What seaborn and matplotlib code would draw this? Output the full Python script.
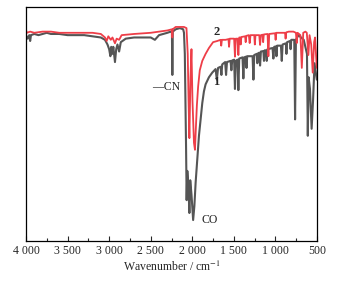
import numpy as np
import pandas as pd
import matplotlib
matplotlib.use("Agg")
import matplotlib.pyplot as plt
import seaborn as sns

# spectrum 1 (grey): wavenumber / cm-1 and transmittance (arbitrary %)
wn_1 = [4000, 3980, 3960, 3950, 3940, 3900, 3850, 3800, 3750, 3700, 3600, 3500,
        3400, 3300, 3200, 3100, 3050, 3020, 3000, 2985, 2975, 2960, 2950, 2930,
        2915, 2900, 2880, 2860, 2800, 2700, 2600, 2500, 2450, 2400, 2300, 2260,
        2245, 2240, 2235, 2200, 2150, 2110, 2100, 2090, 2075, 2068, 2060, 2045,
        2035, 2025, 2010, 1990, 1975, 1960, 1940, 1920, 1900, 1880, 1860, 1840,
        1800, 1760, 1720, 1705, 1690, 1660, 1650, 1640, 1605, 1594, 1583, 1540,
        1530, 1520, 1497, 1487, 1477, 1456, 1446, 1436, 1396, 1386, 1376, 1355,
        1348, 1340, 1275, 1265, 1255, 1225, 1218, 1210, 1195, 1185, 1175, 1145,
        1138, 1130, 1115, 1105, 1095, 1035, 1025, 1015, 995, 988, 980, 934,
        924, 914, 875, 868, 860, 825, 818, 810, 790, 774, 764, 754,
        724, 660, 621, 611, 601, 585, 565, 548, 530, 503]
t_1 = [88, 86.5, 88, 85.5, 88, 88.5, 88, 88.5, 89, 88.5, 88.5, 88,
       88, 88, 87.5, 87, 86, 84, 82, 79, 83, 80, 83, 76.5,
       82, 84, 81, 85, 86.5, 87, 87, 87, 86, 88, 89, 89.5,
       89, 71, 89.5, 90.5, 91, 90.5, 89, 80, 40, 17.5, 30, 22,
       12, 26, 20, 9, 15, 25, 35, 45, 52, 59, 64, 67,
       70, 72, 73.5, 69, 74, 74.5, 71, 75.5, 76.5, 71, 76.5, 77,
       73, 77.2, 77.5, 65, 77, 77.5, 64.5, 78, 78.5, 69.5, 78.5, 78.8,
       74, 79, 79, 69, 79.5, 80, 76, 80.2, 80.5, 75, 81, 81.2,
       77, 81.5, 81.5, 77, 82, 82.5, 78, 83, 83.2, 79, 83.5, 83.5,
       77, 84, 84.5, 80, 85, 85.5, 82, 86, 86, 86, 52, 86,
       88, 86, 80, 45, 70, 65, 48, 60, 76, 69]

# spectrum 2 (red)
wn_2 = [4000, 3990, 3950, 3900, 3800, 3700, 3600, 3400, 3200, 3100, 3050, 3030,
        3010, 2980, 2960, 2930, 2910, 2880, 2850, 2700, 2500, 2400, 2300, 2245,
        2240, 2235, 2200, 2100, 2070, 2055, 2045, 2035, 2022, 2010, 1998, 1980,
        1968, 1955, 1945, 1930, 1910, 1880, 1840, 1800, 1750, 1700, 1660, 1652,
        1644, 1600, 1565, 1558, 1550, 1497, 1487, 1477, 1456, 1446, 1436, 1425,
        1418, 1410, 1365, 1358, 1350, 1320, 1310, 1300, 1255, 1248, 1240, 1195,
        1185, 1175, 1155, 1148, 1140, 1095, 1085, 1075, 1005, 998, 990, 960,
        885, 878, 870, 840, 784, 754, 744, 734, 700, 683, 666, 640,
        623, 604, 590, 570, 552, 535, 524, 503]
t_2 = [90.2, 89, 89.5, 89, 89.5, 89.5, 89, 89, 89, 88.5, 87, 85.5,
       87.5, 86, 87, 84.5, 86.5, 86, 88, 88.5, 89, 89.5, 90, 90.5,
       87, 90.5, 91.5, 91.5, 91, 80, 60, 44, 70, 82, 60, 42,
       39, 50, 58, 66, 73, 77, 80, 82.5, 85, 85.5, 86, 83.5,
       86, 86, 86.3, 83, 86.5, 86.5, 78.8, 86.5, 86.5, 79.5, 87, 87,
       84, 87.2, 87.5, 85, 87.7, 88, 84.6, 88, 88, 84, 88, 88,
       83.8, 88, 88.2, 85, 88.3, 88.5, 79, 88.5, 88.8, 86, 89, 89,
       89, 86.5, 89.2, 89.5, 89.5, 89, 84.6, 89, 88, 74, 89, 89.5,
       89, 79.5, 88, 84, 72, 85, 87, 74]

ticks = [4000, 3500, 3000, 2500, 2000, 1500, 1000, 500]
tick_labels = ['4 000', '3 500', '3 000', '2 500', '2 000', '1 500', '1 000', '500']

sns.set_style("white")
plt.rcParams['font.family'] = ['Liberation Serif', 'DejaVu Serif']
plt.rcParams['mathtext.fontset'] = 'stix'

fig = plt.figure(figsize=(3.42, 2.82), dpi=100)
ax = fig.add_axes([0.076, 0.145, 0.851, 0.830])

sns.lineplot(x=wn_1, y=t_1, sort=False, estimator=None, color='#555555', lw=1.5, ax=ax)
sns.lineplot(x=wn_2, y=t_2, sort=False, estimator=None, color='#ee3e48', lw=1.3, ax=ax)

ax.set_xlim(4000, 500)
ax.set_ylim(0, 100)
ax.set_xticks(ticks)
ax.set_xticklabels(tick_labels, fontsize=8.5)
ax.set_xticks([3750, 3250, 2750, 2250, 1750, 1250, 750], minor=True)
ax.set_yticks([])
ax.tick_params(axis='x', which='major', direction='in', length=3.5, width=0.8, pad=3,
               bottom=True, top=False)
ax.tick_params(axis='x', which='minor', direction='in', length=2, width=0.8,
               bottom=True, top=False)
for s in ax.spines.values():
    s.set_color('black')
    s.set_linewidth(0.9)

ax.set_xlabel('Wavenumber / cm$^{-1}$', fontsize=8.5, labelpad=2)
ax.set_ylabel('')

ax.text(2484, 65.8, '\u2014CN', fontsize=8.5, ha='left', va='center')
ax.text(1895, 9, 'CO', fontsize=8.5, ha='left', va='center')
ax.text(1714, 68, '1', fontsize=9, fontweight='bold', ha='center', va='center')
ax.text(1702, 89.5, '2', fontsize=9, fontweight='bold', ha='center', va='center')

plt.savefig('out.png', dpi=100)
plt.close()
